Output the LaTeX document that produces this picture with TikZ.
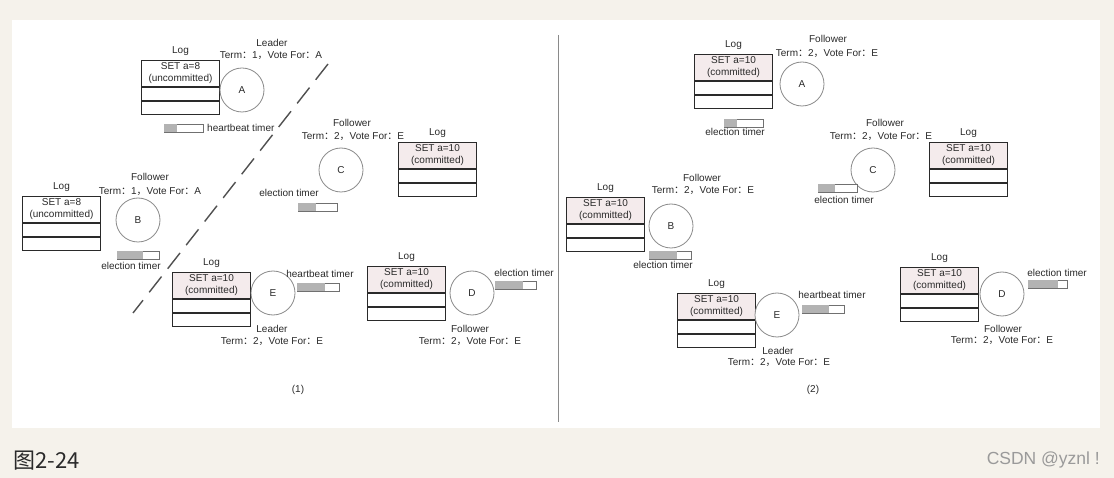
\documentclass[tikz,border=0pt]{standalone}
\usepackage{fontspec}
\setmainfont{Liberation Sans}
\newfontfamily\cjk{Noto Sans CJK SC}
\definecolor{bg}{HTML}{F5F2EB}
\definecolor{ink}{HTML}{2A2A2A}
\definecolor{pinkish}{HTML}{F4EBEC}
\definecolor{circ}{HTML}{8A8A8A}
\definecolor{tfill}{HTML}{B3B3B3}
\definecolor{tline}{HTML}{707070}
\definecolor{dashc}{HTML}{505050}
\definecolor{wm}{HTML}{9A9A9A}
\newcommand\TV[2]{Term{\cjk ：}#1{\cjk ，}Vote For{\cjk ：}#2}
\newcommand\logb[6]{%
  \node[logtop, fill=#6] (#1) at (#2,#3) {#4\\#5};
  \node[logrow] (#1a) at (#1.south west) {};
  \node[logrow] (#1b) at (#1a.south west) {};
  \node[lbl] (#1t) at ([yshift=9pt]#1.north) {Log};
}
\newcommand\timer[5]{%
  \node[timerbox, minimum width=#4pt] (#1) at (#2,#3) {};
  \fill[tfill] ([xshift=0.4pt,yshift=0.4pt]#1.south west) rectangle ([xshift=#5pt,yshift=-0.4pt]#1.north west);
}
\begin{document}
\begin{tikzpicture}[x=1pt, y=-1pt,
  lbl/.style={inner sep=0pt, text=ink, font=\fontsize{10}{12}\selectfont},
  logtop/.style={draw=ink, line width=1pt, minimum width=78pt, minimum height=26pt, inner sep=0pt, align=center, anchor=north west, text=ink, font=\fontsize{10}{12}\selectfont},
  logrow/.style={draw=ink, line width=1pt, minimum width=78pt, minimum height=13pt, inner sep=0pt, anchor=north west},
  srv/.style={circle, draw=circ, line width=0.8pt, fill=white, minimum size=44pt, inner sep=0pt, text=ink, font=\fontsize{10}{12}\selectfont},
  timerbox/.style={draw=tline, line width=0.7pt, fill=white, minimum height=8pt, inner sep=0pt, anchor=west},
  split/.style={draw=dashc, line width=1.4pt, dash pattern=on 20pt off 10pt},
  divider/.style={draw=circ, line width=0.8pt}]
\useasboundingbox (0,0) rectangle (1114,478);
\fill[bg] (0,0) rectangle (1114,478);
\fill[white] (12,20) rectangle (1100,428);

% ---------- panel (1) ----------
\logb{logA}{141}{60}{SET a=8}{(uncommitted)}{white}
\node[srv] (A) at (242,90) {A};
\node[lbl] (A1) at (272,43) {Leader};
\node[lbl] (A2) at (271,56) {\TV{1}{A}};
\timer{hbA}{164}{128}{39}{13}
\node[lbl, anchor=west] (hbAl) at (207,128) {heartbeat timer};

\logb{logB}{22}{196}{SET a=8}{(uncommitted)}{white}
\node[srv] (B) at (138,220) {B};
\node[lbl] (B1) at (150,177) {Follower};
\node[lbl] (B2) at (150,192) {\TV{1}{A}};
\timer{etB}{117}{255}{42}{26}
\node[lbl] (etBl) at (131,266) {election timer};

\node[srv] (C) at (341,170) {C};
\node[lbl] (C1) at (352,123) {Follower};
\node[lbl] (C2) at (353,137) {\TV{2}{E}};
\logb{logC}{398}{142}{SET a=10}{(committed)}{pinkish}
\timer{etC}{298}{207}{39}{18}
\node[lbl] (etCl) at (289,193) {election timer};

\logb{logE}{172}{272}{SET a=10}{(committed)}{pinkish}
\node[srv] (E) at (273,293) {E};
\node[lbl] (hbEl) at (320,274) {heartbeat timer};
\timer{hbE}{297}{287}{42}{28}
\node[lbl] (E1) at (272,329) {Leader};
\node[lbl] (E2) at (272,342) {\TV{2}{E}};

\logb{logD}{367}{266}{SET a=10}{(committed)}{pinkish}
\node[srv] (D) at (472,293) {D};
\node[lbl] (etDl) at (524,273) {election timer};
\timer{etD}{495}{285}{41}{28}
\node[lbl] (D1) at (470,329) {Follower};
\node[lbl] (D2) at (470,342) {\TV{2}{E}};

\coordinate (s1) at (328,64);
\coordinate (s2) at (133,313);
\draw[split] (s1) -- (s2);

\node[lbl] (cap1) at (298,390) {(1)};

\coordinate (v1) at (558,35);
\coordinate (v2) at (558,422);
\draw[divider] (v1) -- (v2);

% ---------- panel (2) ----------
\logb{rlogA}{694}{54}{SET a=10}{(committed)}{pinkish}
\node[srv] (rA) at (802,84) {A};
\node[lbl] (rA1) at (828,39) {Follower};
\node[lbl] (rA2) at (827,54) {\TV{2}{E}};
\timer{retA}{724}{123}{39}{13}
\node[lbl] (retAl) at (735,132) {election timer};

\logb{rlogB}{566}{197}{SET a=10}{(committed)}{pinkish}
\node[srv] (rB) at (671,226) {B};
\node[lbl] (rB1) at (702,178) {Follower};
\node[lbl] (rB2) at (703,191) {\TV{2}{E}};
\timer{retB}{649}{255}{42}{28}
\node[lbl] (retBl) at (663,265) {election timer};

\node[srv] (rC) at (873,170) {C};
\node[lbl] (rC1) at (885,123) {Follower};
\node[lbl] (rC2) at (881,137) {\TV{2}{E}};
\logb{rlogC}{929}{142}{SET a=10}{(committed)}{pinkish}
\timer{retC}{818}{188}{39}{17}
\node[lbl] (retCl) at (844,200) {election timer};

\logb{rlogE}{677}{293}{SET a=10}{(committed)}{pinkish}
\node[srv] (rE) at (777,315) {E};
\node[lbl] (rhbEl) at (832,295) {heartbeat timer};
\timer{rhbE}{802}{309}{42}{27}
\node[lbl] (rE1) at (778,351) {Leader};
\node[lbl] (rE2) at (779,363) {\TV{2}{E}};

\logb{rlogD}{900}{267}{SET a=10}{(committed)}{pinkish}
\node[srv] (rD) at (1002,294) {D};
\node[lbl] (retDl) at (1057,273) {election timer};
\timer{retD}{1028}{284}{39}{30}
\node[lbl] (rD1) at (1003,329) {Follower};
\node[lbl] (rD2) at (1002,341) {\TV{2}{E}};

\node[lbl] (cap2) at (813,390) {(2)};

% ---------- caption ----------
\node[inner sep=0pt, anchor=west, text=ink, font=\cjk\fontsize{22}{24}\selectfont] (fig) at (13,461) {图2-24};
\node[inner sep=0pt, anchor=east, text=wm, font=\fontsize{17.5}{19}\selectfont] (wmk) at (1100,460) {CSDN @yznl !};
\end{tikzpicture}
\end{document}
